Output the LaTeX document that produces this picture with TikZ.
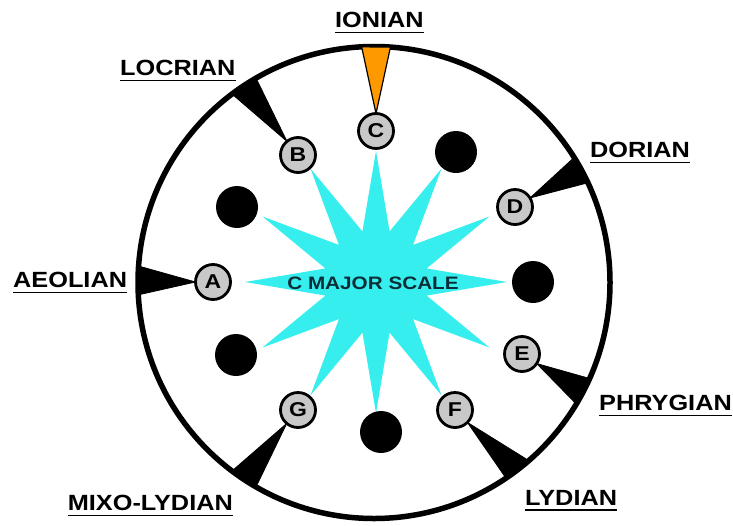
\documentclass[tikz,border=0pt]{standalone}
\usepackage{fontspec}
\usetikzlibrary{shapes.geometric}
\newfontfamily\modefont{Liberation Sans}[FakeStretch=1.15]

\definecolor{burstcyan}{RGB}{55,238,238}
\definecolor{ionorange}{RGB}{255,153,0}
\definecolor{notegray}{RGB}{200,200,200}
\definecolor{scaleink}{RGB}{10,45,55}

\tikzset{
  note/.style={circle, draw=black, line width=2.8pt, fill=notegray, minimum size=35pt, inner sep=0pt, outer sep=0pt, font=\modefont\bfseries\fontsize{20}{20}\selectfont},
  gap/.style={circle, fill=black, minimum size=42pt, inner sep=0pt},
  pointer/.style={fill=black, draw=black, line width=0.8pt, line join=round},
  modename/.style={anchor=base west, inner xsep=0pt, inner ysep=5pt, font=\modefont\bfseries\fontsize{22}{22}\selectfont,
    append after command={(\tikzlastnode.south west) edge[line width=1.8pt] (\tikzlastnode.south east)}}
}

\begin{document}
\begin{tikzpicture}[x=1pt,y=1pt,yscale=-1]
\useasboundingbox (0,0) rectangle (733,525);

%Shape: Circle (wheel)
\node[circle, draw=black, line width=5.5pt, minimum size=472pt, inner sep=0pt, outer sep=0pt] (wheel) at (374,282.5) {};
%Shape: Star
\node[star, star points=12, star point ratio=2.5, minimum size=262pt, inner sep=0pt, fill=burstcyan] (burst) at (376,282) {};
% Text Node
\node[font=\modefont\bfseries\fontsize{18}{18}\selectfont, text=scaleink] (title) at (373,283) {C MAJOR SCALE};

%Notes of the scale
\node[note] (C) at (376,131) {C};
\node[note] (B) at (298,155) {B};
\node[note] (D) at (515,207) {D};
\node[note] (A) at (213,282) {A};
\node[note] (E) at (522,354) {E};
\node[note] (F) at (455,410) {F};
\node[note] (G) at (298,410) {G};
%Black keys
\node[gap] (csharp) at (456,152) {};
\node[gap] (dsharp) at (533,282) {};
\node[gap] (fsharp) at (381,432) {};
\node[gap] (gsharp) at (236,355) {};
\node[gap] (asharp) at (237,207) {};

%Pointers
\filldraw[pointer, fill=ionorange, line width=1.2pt] (wheel.86.8) -- (C.north) -- (wheel.93.2) -- cycle;
\filldraw[pointer] (wheel.120.6) -- (B.129) -- (wheel.127.4) -- cycle;
\filldraw[pointer] (wheel.25.6) -- (D.31) -- (wheel.32.4) -- cycle;
\filldraw[pointer] (wheel.176.6) -- (A.180) -- (wheel.183.4) -- cycle;
\filldraw[pointer] (wheel.-24.6) -- (E.-33) -- (wheel.-31.4) -- cycle;
\filldraw[pointer] (wheel.-49.6) -- (F.-45) -- (wheel.-56.4) -- cycle;
\filldraw[pointer] (wheel.-120.6) -- (G.-130) -- (wheel.-127.4) -- cycle;

% Text Node
\node[modename] (ionian) at (335,27) {IONIAN};
% Text Node
\node[modename] (locrian) at (120,75) {LOCRIAN};
% Text Node
\node[modename] (dorian) at (590,157) {DORIAN};
% Text Node
\node[modename] (aeolian) at (13,287) {AEOLIAN};
% Text Node
\node[modename] (phrygian) at (599,410) {PHRYGIAN};
% Text Node
\node[modename] (lydian) at (525,505) {LYDIAN};
% Text Node
\node[modename, anchor=base east] (mixolydian) at (233,510) {MIXO-LYDIAN};

\end{tikzpicture}
\end{document}
